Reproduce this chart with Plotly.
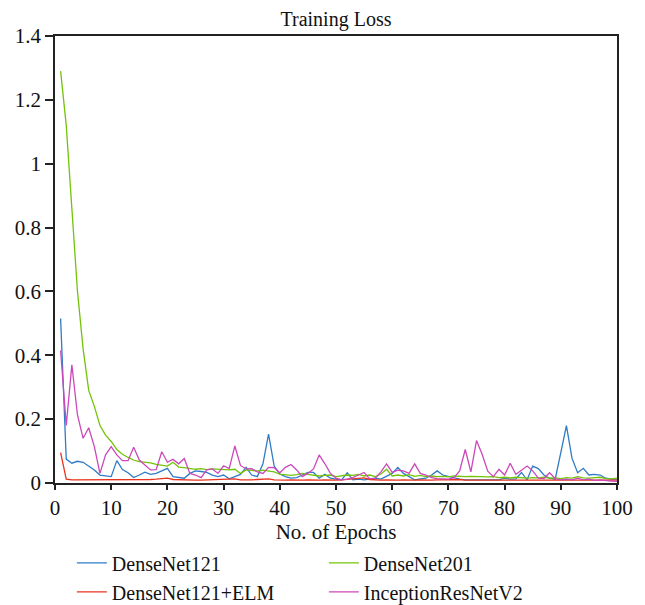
import plotly.graph_objects as go

epochs = list(range(1, 101))

densenet121 = [0.515, 0.075, 0.062, 0.068, 0.065, 0.052, 0.041, 0.025, 0.022, 0.020,
               0.070, 0.042, 0.032, 0.017, 0.025, 0.034, 0.027, 0.030, 0.038, 0.046,
               0.020, 0.018, 0.015, 0.030, 0.038, 0.036, 0.033, 0.025, 0.020, 0.025,
               0.013, 0.020, 0.027, 0.049, 0.025, 0.020, 0.060, 0.153, 0.053, 0.028,
               0.020, 0.015, 0.017, 0.025, 0.033, 0.033, 0.015, 0.027, 0.015, 0.012,
               0.010, 0.032, 0.010, 0.012, 0.010, 0.012, 0.015, 0.012, 0.020, 0.030,
               0.049, 0.030, 0.020, 0.010, 0.013, 0.015, 0.025, 0.038, 0.025, 0.020,
               0.015, 0.012, 0.010, 0.010, 0.012, 0.010, 0.011, 0.012, 0.010, 0.015,
               0.012, 0.013, 0.033, 0.010, 0.053, 0.045, 0.025, 0.015, 0.012, 0.095,
               0.180, 0.077, 0.032, 0.046, 0.025, 0.027, 0.025, 0.015, 0.012, 0.012]

densenet201 = [1.290, 1.120, 0.860, 0.600, 0.420, 0.290, 0.240, 0.180, 0.150, 0.130,
               0.105, 0.090, 0.080, 0.072, 0.067, 0.065, 0.063, 0.058, 0.055, 0.053,
               0.065, 0.050, 0.048, 0.046, 0.043, 0.045, 0.042, 0.044, 0.043, 0.040,
               0.041, 0.043, 0.030, 0.041, 0.040, 0.038, 0.040, 0.037, 0.035, 0.028,
               0.025, 0.024, 0.026, 0.030, 0.027, 0.025, 0.022, 0.024, 0.025, 0.020,
               0.022, 0.025, 0.024, 0.027, 0.022, 0.025, 0.020, 0.028, 0.043, 0.022,
               0.025, 0.022, 0.026, 0.021, 0.024, 0.020, 0.022, 0.020, 0.021, 0.019,
               0.022, 0.020, 0.020, 0.021, 0.020, 0.020, 0.019, 0.020, 0.017, 0.018,
               0.016, 0.018, 0.017, 0.015, 0.017, 0.016, 0.018, 0.015, 0.016, 0.014,
               0.017, 0.015, 0.020, 0.016, 0.015, 0.016, 0.018, 0.014, 0.013, 0.015]

densenet121_elm = [0.095, 0.012, 0.010, 0.010, 0.009, 0.010, 0.009, 0.009, 0.010, 0.009,
                   0.009, 0.010, 0.009, 0.009, 0.010, 0.010, 0.011, 0.012, 0.013, 0.015,
                   0.011, 0.010, 0.009, 0.010, 0.009, 0.009, 0.010, 0.009, 0.010, 0.011,
                   0.012, 0.013, 0.010, 0.009, 0.010, 0.011, 0.012, 0.013, 0.010, 0.009,
                   0.009, 0.010, 0.009, 0.009, 0.010, 0.009, 0.009, 0.010, 0.009, 0.009,
                   0.010, 0.011, 0.012, 0.014, 0.016, 0.011, 0.009, 0.009, 0.010, 0.009,
                   0.009, 0.010, 0.009, 0.009, 0.010, 0.009, 0.009, 0.010, 0.010, 0.011,
                   0.012, 0.011, 0.009, 0.009, 0.010, 0.009, 0.009, 0.010, 0.009, 0.009,
                   0.010, 0.009, 0.009, 0.010, 0.011, 0.010, 0.009, 0.009, 0.010, 0.009,
                   0.009, 0.010, 0.009, 0.009, 0.010, 0.009, 0.009, 0.010, 0.009, 0.009]

inception_resnet_v2 = [0.415, 0.180, 0.370, 0.213, 0.140, 0.173, 0.114, 0.030, 0.088, 0.114,
                       0.088, 0.070, 0.070, 0.112, 0.072, 0.056, 0.041, 0.042, 0.098, 0.065,
                       0.074, 0.060, 0.077, 0.030, 0.025, 0.017, 0.041, 0.044, 0.030, 0.054,
                       0.045, 0.116, 0.055, 0.044, 0.045, 0.035, 0.030, 0.049, 0.048, 0.032,
                       0.049, 0.058, 0.041, 0.020, 0.030, 0.044, 0.088, 0.061, 0.030, 0.015,
                       0.010, 0.012, 0.017, 0.025, 0.033, 0.013, 0.015, 0.035, 0.060, 0.033,
                       0.040, 0.038, 0.030, 0.060, 0.030, 0.025, 0.017, 0.014, 0.013, 0.012,
                       0.017, 0.038, 0.105, 0.035, 0.133, 0.090, 0.037, 0.020, 0.043, 0.025,
                       0.062, 0.027, 0.040, 0.053, 0.038, 0.015, 0.014, 0.032, 0.014, 0.010,
                       0.012, 0.010, 0.015, 0.010, 0.012, 0.008, 0.010, 0.007, 0.006, 0.005]

series = [
    ("DenseNet121", densenet121, "#2f7bc5"),
    ("DenseNet201", densenet201, "#74c30a"),
    ("DenseNet121+ELM", densenet121_elm, "#e8331e"),
    ("InceptionResNetV2", inception_resnet_v2, "#cc48ba"),
]

x_ticks = list(range(0, 101, 10))
y_ticks = [0, 0.2, 0.4, 0.6, 0.8, 1.0, 1.2, 1.4]
y_tick_labels = ["0", "0.2", "0.4", "0.6", "0.8", "1", "1.2", "1.4"]

FONT = "Liberation Serif"
TXT = "#111111"

fig = go.Figure()
for name, vals, color in series:
    fig.add_trace(go.Scatter(x=epochs, y=vals, mode="lines", name=name,
                             line=dict(color=color, width=1.3)))

fig.update_layout(
    width=645, height=605,
    margin=dict(l=55, r=28, t=36, b=122, autoexpand=False),
    paper_bgcolor="white", plot_bgcolor="white",
    font=dict(family=FONT, size=20, color=TXT),
    title=dict(text="Training Loss", x=0.5, xref="paper", xanchor="center",
               y=1, yref="paper", yanchor="bottom", pad=dict(b=10),
               font=dict(family=FONT, size=20, color=TXT)),
    showlegend=True,
    legend=dict(orientation="h", x=0.03, xanchor="left", y=-0.135, yanchor="top",
                entrywidth=207, entrywidthmode="pixels", traceorder="normal",
                font=dict(family=FONT, size=20, color=TXT),
                bgcolor="rgba(0,0,0,0)"),
)

fig.update_xaxes(
    range=[0, 100], tickvals=x_ticks, ticktext=[str(v) for v in x_ticks],
    showgrid=False, zeroline=False,
    showline=True, linecolor="#222", linewidth=1.5, mirror=True,
    ticks="outside", ticklen=5, tickcolor="#222", tickwidth=1.5,
    tickfont=dict(family=FONT, size=21, color=TXT),
    title=dict(text="No. of Epochs", standoff=0,
               font=dict(family=FONT, size=21, color=TXT)),
)
fig.update_yaxes(
    range=[0, 1.4], tickvals=y_ticks, ticktext=y_tick_labels,
    showgrid=False, zeroline=False,
    showline=True, linecolor="#222", linewidth=1.5, mirror=True,
    ticks="outside", ticklen=8, tickcolor="#222", tickwidth=1.5,
    tickfont=dict(family=FONT, size=21, color=TXT),
)

fig.write_html("out.html")
